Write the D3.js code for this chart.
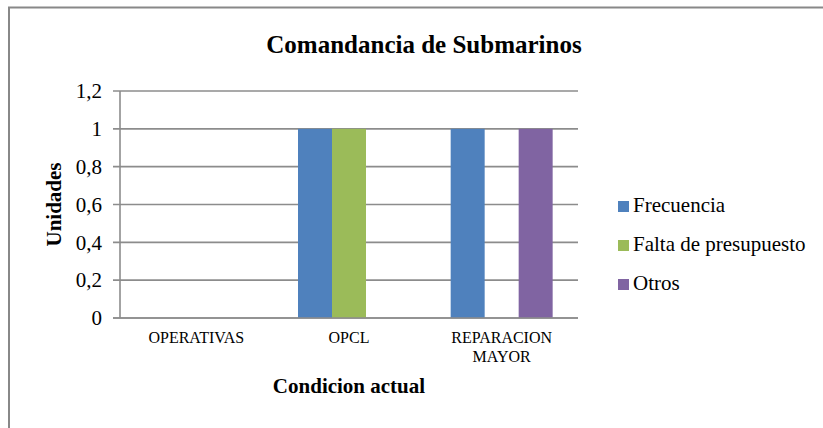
<!DOCTYPE html>
<html>
<head>
<meta charset="utf-8">
<script src="https://cdnjs.cloudflare.com/ajax/libs/d3/7.8.5/d3.min.js"></script>
</head>
<body style="margin:0; background:#fff">
<div id="chart"></div>
<script>
// chart data
var categories = ["OPERATIVAS", "OPCL", "REPARACION MAYOR"];
var seriesNames = ["Frecuencia", "Falta de presupuesto", "Otros"];
var frecuencia = [0, 1, 1];
var faltaPresupuesto = [0, 1, 0];
var otros = [0, 0, 1];
var yTicks = [0, 0.2, 0.4, 0.6, 0.8, 1, 1.2];
var colors = ["#4F81BD", "#9BBB59", "#8064A2"];

var FONT = "Liberation Serif";

var svgWidth = 823;
var svgHeight = 428;

var svg = d3.select("#chart")
    .append("svg")
    .attr("width", svgWidth)
    .attr("height", svgHeight)
    .style("font-family", FONT);

// outer frame (only left and top edges show in the picture)
svg.append("rect")
    .attr("x", 9)
    .attr("y", 7.5)
    .attr("width", 900)
    .attr("height", 500)
    .attr("fill", "none")
    .attr("stroke", "#888")
    .attr("stroke-width", 2);

// plot area in pixels
var plot = { left: 120, right: 578, top: 91, bottom: 318 };

var x0 = d3.scaleBand()
    .domain(categories)
    .range([plot.left, plot.right])
    .paddingInner(0.332)
    .paddingOuter(0.166);

var x1 = d3.scaleBand()
    .domain(seriesNames)
    .range([0, x0.bandwidth()]);

var y = d3.scaleLinear()
    .domain([0, 1.2])
    .range([plot.bottom, plot.top]);

// gridlines
svg.append("g")
    .selectAll("line")
    .data(yTicks)
    .enter().append("line")
    .attr("x1", plot.left - 7)
    .attr("x2", plot.right)
    .attr("y1", d => y(d))
    .attr("y2", d => y(d))
    .attr("stroke", "#8c8c8c")
    .attr("stroke-width", 1.6);

// bars
var rows = categories.map((c, i) => ({
    cat: c,
    vals: [frecuencia[i], faltaPresupuesto[i], otros[i]]
}));

var groups = svg.append("g")
    .selectAll("g")
    .data(rows)
    .enter().append("g")
    .attr("transform", d => `translate(${x0(d.cat)},0)`);

groups.selectAll("rect")
    .data(d => d.vals.map((v, j) => ({ name: seriesNames[j], v: v, color: colors[j] })))
    .enter().append("rect")
    .attr("x", d => x1(d.name))
    .attr("width", x1.bandwidth())
    .attr("y", d => y(d.v))
    .attr("height", d => y(0) - y(d.v))
    .attr("fill", d => d.color);

// y axis
var leftAxis = d3.axisLeft(y)
    .tickValues(yTicks)
    .tickSize(0)
    .tickPadding(18)
    .tickFormat(d => String(d).replace(".", ","));

var yAxisG = svg.append("g")
    .attr("transform", `translate(${plot.left},0)`)
    .call(leftAxis)
    .attr("font-family", FONT)
    .attr("font-size", 21);
yAxisG.select(".domain").remove();
yAxisG.selectAll("text")
    .style("font-family", FONT)
    .style("font-size", "21px")
    .attr("fill", "#000");

// axis lines
svg.append("line")
    .attr("x1", plot.left).attr("x2", plot.left)
    .attr("y1", plot.top).attr("y2", plot.bottom)
    .attr("stroke", "#8c8c8c").attr("stroke-width", 1.6);
svg.append("line")
    .attr("x1", plot.left - 7).attr("x2", plot.right)
    .attr("y1", plot.bottom).attr("y2", plot.bottom)
    .attr("stroke", "#8c8c8c").attr("stroke-width", 1.6);

// category labels
var catLabels = svg.append("g")
    .selectAll("text")
    .data(categories)
    .enter().append("text")
    .attr("text-anchor", "middle")
    .style("font-family", FONT)
    .style("font-size", "16px")
    .attr("y", 343);
catLabels.each(function(d) {
    var cx = x0(d) + x0.bandwidth() / 2;
    var words = d.length > 12 ? d.split(" ") : [d];
    d3.select(this).selectAll("tspan")
        .data(words)
        .enter().append("tspan")
        .attr("x", cx)
        .attr("dy", (w, i) => i === 0 ? 0 : 19)
        .text(w => w);
});

// title
svg.append("text")
    .attr("x", 424)
    .attr("y", 53)
    .attr("text-anchor", "middle")
    .style("font-family", FONT)
    .style("font-size", "25px")
    .style("font-weight", "bold")
    .text("Comandancia de Submarinos");

// axis titles
svg.append("text")
    .attr("x", (plot.left + plot.right) / 2)
    .attr("y", 393)
    .attr("text-anchor", "middle")
    .style("font-family", FONT)
    .style("font-size", "21px")
    .style("font-weight", "bold")
    .text("Condicion actual");

svg.append("text")
    .attr("transform", `translate(61, ${(plot.top + plot.bottom) / 2}) rotate(-90)`)
    .attr("text-anchor", "middle")
    .style("font-family", FONT)
    .style("font-size", "21px")
    .style("font-weight", "bold")
    .text("Unidades");

// legend
var legend = svg.append("g")
    .selectAll("g")
    .data(seriesNames)
    .enter().append("g")
    .attr("transform", (d, i) => `translate(618, ${201 + i * 39})`);

legend.append("rect")
    .attr("width", 11)
    .attr("height", 11)
    .attr("fill", (d, i) => colors[i]);

legend.append("text")
    .attr("x", 15)
    .attr("y", 11)
    .style("font-family", FONT)
    .style("font-size", "21px")
    .text(d => d);
</script>
</body>
</html>
